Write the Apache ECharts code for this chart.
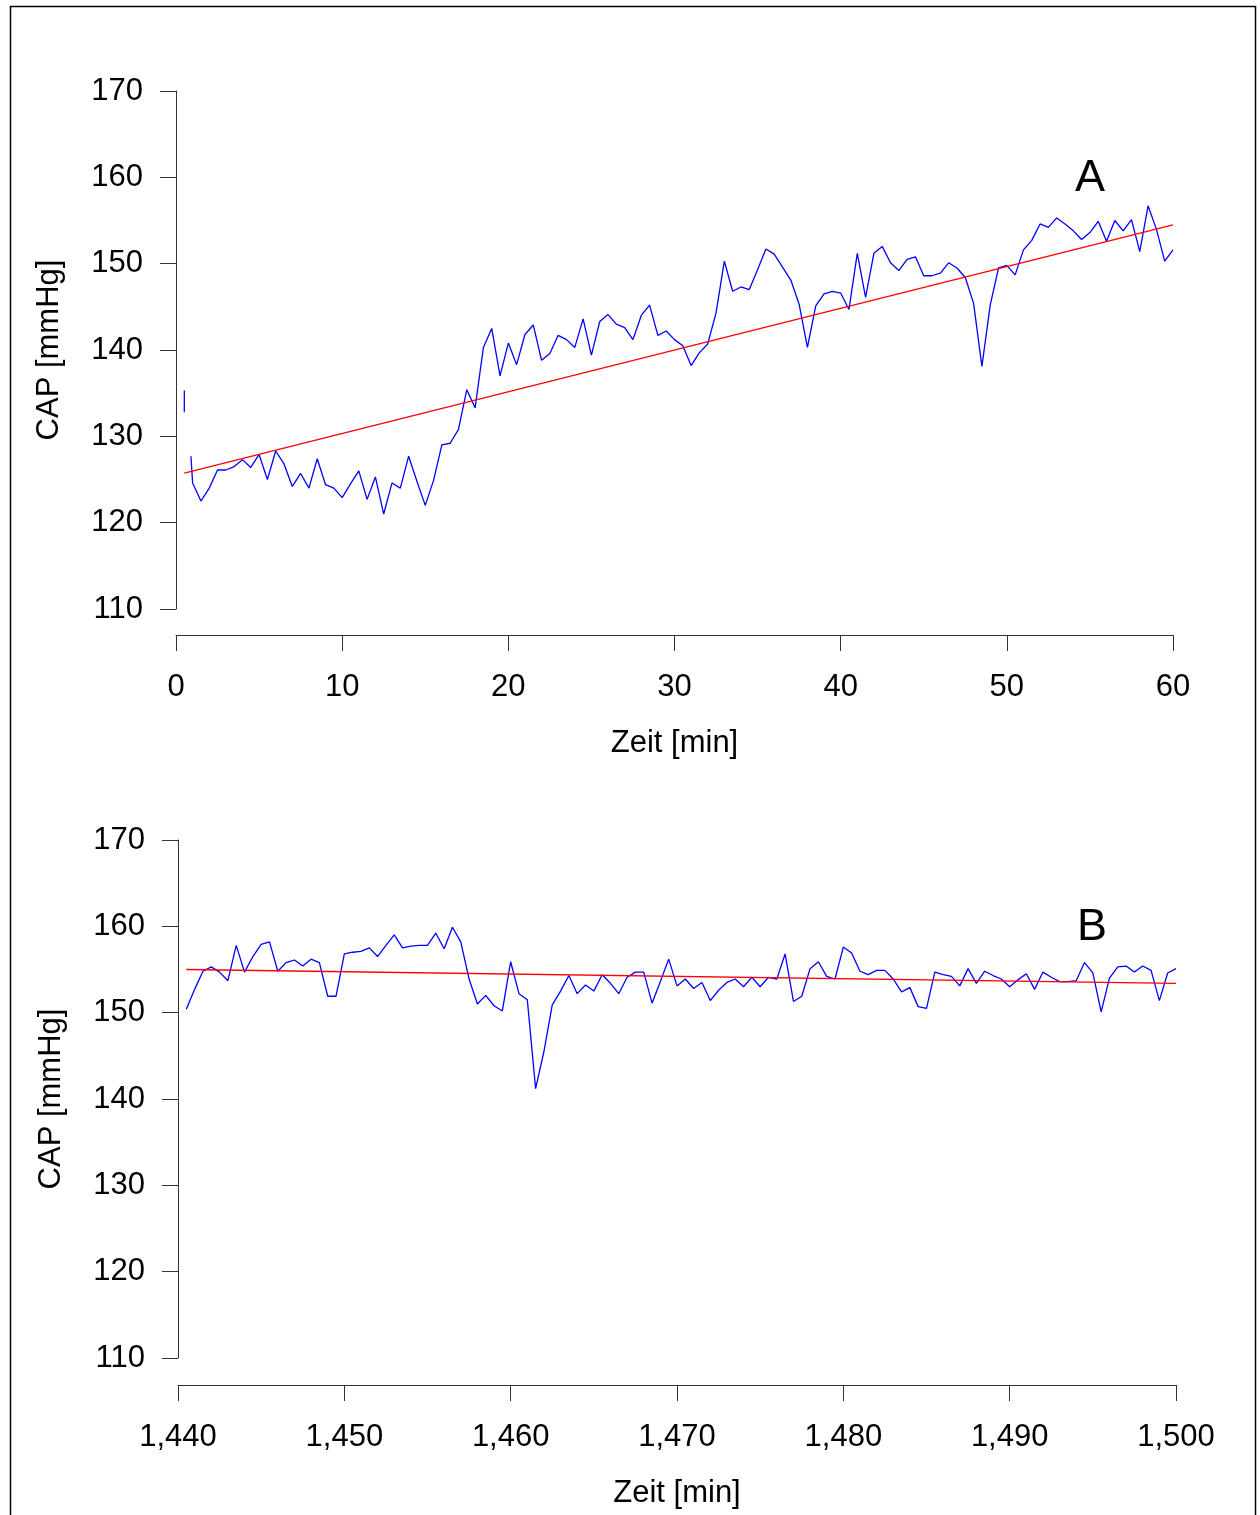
<!DOCTYPE html>
<html>
<head>
<meta charset="utf-8">
<script src="https://cdn.jsdelivr.net/npm/echarts@6/dist/echarts.min.js"></script>
<style>
  html, body { margin: 0; padding: 0; background: #fff; }
  #chart { width: 1260px; height: 1515px; }
</style>
</head>
<body>
<div id="chart"></div>
<script>
// Panel A: first hour after start, CAP sampled every 0.5 min
const leadInA = [[0.5, 135.3], [0.5, 132.8], [0.7, '-'], [0.9, 127.7]];
const startA = 1.0;
const capA = [
  124.6, 122.5, 124.0, 126.1, 126.1, 126.5, 127.3, 126.4, 127.9, 125.0,
  128.3, 126.8, 124.2, 125.7, 124.0, 127.4, 124.4, 124.0, 122.9, 124.5,
  126.0, 122.7, 125.3, 121.0, 124.6, 124.0, 127.7, 124.8, 122.0, 124.9,
  129.0, 129.2, 130.8, 135.4, 133.3, 140.3, 142.5, 137.0, 140.8, 138.3,
  141.8, 142.9, 138.8, 139.6, 141.7, 141.2, 140.3, 143.6, 139.4, 143.3,
  144.1, 143.0, 142.6, 141.2, 144.0, 145.2, 141.7, 142.2, 141.2, 140.5,
  138.2, 139.7, 140.7, 144.3, 150.3, 146.8, 147.3, 147.0, 149.3, 151.7,
  151.1, 149.6, 148.1, 145.3, 140.3, 145.1, 146.5, 146.8, 146.6, 144.7,
  151.2, 146.1, 151.2, 152.0, 150.1, 149.2, 150.5, 150.8, 148.6, 148.6,
  148.9, 150.1, 149.5, 148.4, 145.4, 138.1, 145.2, 149.5, 149.8, 148.7,
  151.6, 152.7, 154.6, 154.2, 155.3, 154.6, 153.8, 152.8, 153.6, 154.9,
  152.6, 155.0, 153.8, 155.1, 151.4, 156.7, 154.0, 150.3, 151.6
];
const trendA = [[0.5, 125.75], [60, 154.5]];

// Panel B: hour 24, CAP sampled every 0.5 min
const startB = 1440.5;
const capB = [
  150.4, 152.7, 154.8, 155.3, 154.7, 153.7, 157.8, 154.7, 156.5, 157.9,
  158.2, 154.8, 155.8, 156.1, 155.4, 156.2, 155.8, 151.9, 151.9, 156.8,
  157.0, 157.1, 157.5, 156.5, 157.8, 159.0, 157.5, 157.7, 157.8, 157.8,
  159.2, 157.4, 159.9, 158.2, 153.9, 151.0, 152.0, 150.8, 150.2, 155.9,
  152.2, 151.5, 141.2, 145.5, 150.9, 152.5, 154.3, 152.2, 153.2, 152.5,
  154.4, 153.4, 152.2, 154.1, 154.7, 154.7, 151.1, 153.6, 156.2, 153.1,
  153.9, 152.8, 153.5, 151.4, 152.6, 153.5, 153.9, 153.0, 154.1, 153.0,
  154.1, 153.9, 156.8, 151.3, 151.9, 155.1, 155.9, 154.2, 153.9, 157.6,
  156.9, 154.8, 154.4, 154.9, 154.9, 153.9, 152.4, 152.9, 150.7, 150.5,
  154.7, 154.4, 154.2, 153.1, 155.1, 153.4, 154.8, 154.3, 153.9, 153.0,
  153.8, 154.5, 152.7, 154.7, 154.1, 153.6, 153.6, 153.7, 155.8, 154.6,
  150.1, 154.0, 155.3, 155.4, 154.7, 155.4, 154.9, 151.4, 154.6, 155.1
];
const trendB = [[1440.5, 155.0], [1500, 153.4]];

const sampleStep = 0.5;
const yTicks = [110, 120, 130, 140, 150, 160, 170];
const axisTitleX = 'Zeit [min]';
const axisTitleY = 'CAP [mmHg]';
const panelLabels = ['A', 'B'];

function toPairs(start, values) {
  return values.map((v, i) => [start + i * sampleStep, v]);
}

const FONT = '"Liberation Sans", Arial, Helvetica, sans-serif';
const AXIS_COLOR = '#333';
const FS = 31;

function xAxisCfg(gridIndex, min, max, offset, fmt) {
  return {
    type: 'value', gridIndex, min, max, interval: 10, offset,
    position: 'bottom',
    name: axisTitleX, nameLocation: 'middle', nameGap: 93,
    nameTextStyle: { fontFamily: FONT, fontSize: FS, color: '#000' },
    axisLine: { show: true, lineStyle: { color: AXIS_COLOR, width: 1 } },
    axisTick: { show: true, inside: false, length: 16, lineStyle: { color: AXIS_COLOR } },
    axisLabel: { fontFamily: FONT, fontSize: FS, color: '#000', margin: 37,
      showMinLabel: true, showMaxLabel: true, formatter: fmt },
    splitLine: { show: false }
  };
}

function yAxisCfg(gridIndex) {
  return {
    type: 'value', gridIndex, min: yTicks[0], max: yTicks[yTicks.length - 1], interval: 10,
    name: axisTitleY, nameLocation: 'middle', nameGap: 111,
    nameTextStyle: { fontFamily: FONT, fontSize: FS, color: '#000' },
    axisLine: { show: true, lineStyle: { color: AXIS_COLOR, width: 1 } },
    axisTick: { show: true, inside: false, length: 16, lineStyle: { color: AXIS_COLOR } },
    axisLabel: { fontFamily: FONT, fontSize: FS, color: '#000', margin: 33,
      padding: [4, 0, 0, 0], showMinLabel: true, showMaxLabel: true },
    splitLine: { show: false }
  };
}

const thousands = v => v.toLocaleString('en-US');

const chart = echarts.init(document.getElementById('chart'), null, { renderer: 'canvas' });
chart.setOption({
  animation: false,
  backgroundColor: '#fff',
  grid: [
    { left: 176, top: 91, width: 997, height: 518, containLabel: false },
    { left: 178, top: 840, width: 998, height: 518, containLabel: false }
  ],
  xAxis: [
    xAxisCfg(0, 0, 60, 26, v => String(v)),
    xAxisCfg(1, 1440, 1500, 27, thousands)
  ],
  yAxis: [yAxisCfg(0), yAxisCfg(1)],
  graphic: [
    { type: 'rect', shape: { x: 10.5, y: 6.5, width: 1245, height: 1540 },
      style: { fill: null, stroke: '#000', lineWidth: 1.5 }, silent: true, z: 0 },
    { type: 'text', x: 1090, y: 179, style: { text: panelLabels[0], font: '45px ' + FONT,
      fill: '#000', textAlign: 'center', textVerticalAlign: 'middle' } },
    { type: 'text', x: 1092, y: 928, style: { text: panelLabels[1], font: '45px ' + FONT,
      fill: '#000', textAlign: 'center', textVerticalAlign: 'middle' } }
  ],
  series: [
    { type: 'line', xAxisIndex: 0, yAxisIndex: 0, data: leadInA.concat(toPairs(startA, capA)),
      showSymbol: false, connectNulls: false, lineStyle: { color: '#0000ff', width: 1.3 } },
    { type: 'line', xAxisIndex: 0, yAxisIndex: 0, data: trendA, showSymbol: false,
      lineStyle: { color: '#ff0000', width: 1.3 } },
    { type: 'line', xAxisIndex: 1, yAxisIndex: 1, data: toPairs(startB, capB),
      showSymbol: false, lineStyle: { color: '#0000ff', width: 1.3 } },
    { type: 'line', xAxisIndex: 1, yAxisIndex: 1, data: trendB, showSymbol: false,
      lineStyle: { color: '#ff0000', width: 1.3 } }
  ]
});
</script>
</body>
</html>
